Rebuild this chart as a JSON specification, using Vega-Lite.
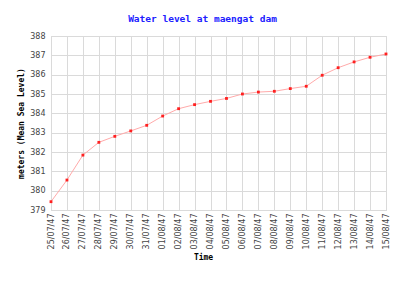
{
  "$schema": "https://vega.github.io/schema/vega-lite/v6.json",
  "width": 335,
  "height": 174,
  "autosize": {"type": "none"},
  "padding": {"left": 51, "top": 36, "right": 24, "bottom": 71},
  "background": "white",
  "title": {
    "text": "Water level at maengat dam",
    "font": "DejaVu Sans Mono",
    "fontSize": 9.5,
    "fontWeight": "bold",
    "color": "#2020ff",
    "anchor": "middle",
    "offset": 9,
    "dx": -16
  },
  "data": {
    "values": [
      {"date": "25/07/47", "level": 379.43},
      {"date": "26/07/47", "level": 380.55},
      {"date": "27/07/47", "level": 381.84},
      {"date": "28/07/47", "level": 382.5},
      {"date": "29/07/47", "level": 382.81},
      {"date": "30/07/47", "level": 383.09},
      {"date": "31/07/47", "level": 383.38},
      {"date": "01/08/47", "level": 383.86},
      {"date": "02/08/47", "level": 384.24},
      {"date": "03/08/47", "level": 384.45},
      {"date": "04/08/47", "level": 384.62},
      {"date": "05/08/47", "level": 384.77},
      {"date": "06/08/47", "level": 385.0},
      {"date": "07/08/47", "level": 385.1},
      {"date": "08/08/47", "level": 385.14},
      {"date": "09/08/47", "level": 385.28},
      {"date": "10/08/47", "level": 385.4},
      {"date": "11/08/47", "level": 385.97},
      {"date": "12/08/47", "level": 386.36},
      {"date": "13/08/47", "level": 386.66},
      {"date": "14/08/47", "level": 386.9},
      {"date": "15/08/47", "level": 387.07}
    ]
  },
  "encoding": {
    "x": {
      "field": "date",
      "type": "ordinal",
      "sort": null,
      "scale": {"type": "point", "padding": 0},
      "axis": {
        "title": "Time",
        "labelAngle": -90,
        "labelAlign": "right",
        "labelBaseline": "middle",
        "labelFont": "DejaVu Sans",
        "labelFontSize": 8,
        "labelColor": "#444",
        "labelPadding": 3,
        "ticks": false,
        "domain": false,
        "grid": true,
        "gridColor": "#dadada",
        "gridWidth": 1,
        "titleFont": "DejaVu Sans Mono",
        "titleFontWeight": "bold",
        "titleFontSize": 8,
        "titleColor": "#000",
        "titlePadding": 5,
        "titleX": 152
      }
    },
    "y": {
      "field": "level",
      "type": "quantitative",
      "scale": {"domain": [379, 388], "nice": false, "zero": false},
      "axis": {
        "title": "meters (Mean Sea Level)",
        "values": [379, 380, 381, 382, 383, 384, 385, 386, 387, 388],
        "labelFont": "DejaVu Sans",
        "labelFontSize": 8,
        "labelColor": "#444",
        "labelPadding": 6,
        "ticks": false,
        "domain": false,
        "grid": true,
        "gridColor": "#dadada",
        "gridWidth": 1,
        "titleFont": "DejaVu Sans Mono",
        "titleFontWeight": "bold",
        "titleFontSize": 8,
        "titleColor": "#000",
        "titlePadding": 4
      }
    }
  },
  "layer": [
    {"mark": {"type": "line", "color": "#ffaaaa", "strokeWidth": 1}},
    {"mark": {"type": "point", "shape": "square", "filled": true, "color": "#ff2020", "size": 8, "opacity": 1}}
  ],
  "config": {
    "view": {"stroke": "#d0d0d0", "strokeWidth": 1}
  }
}
